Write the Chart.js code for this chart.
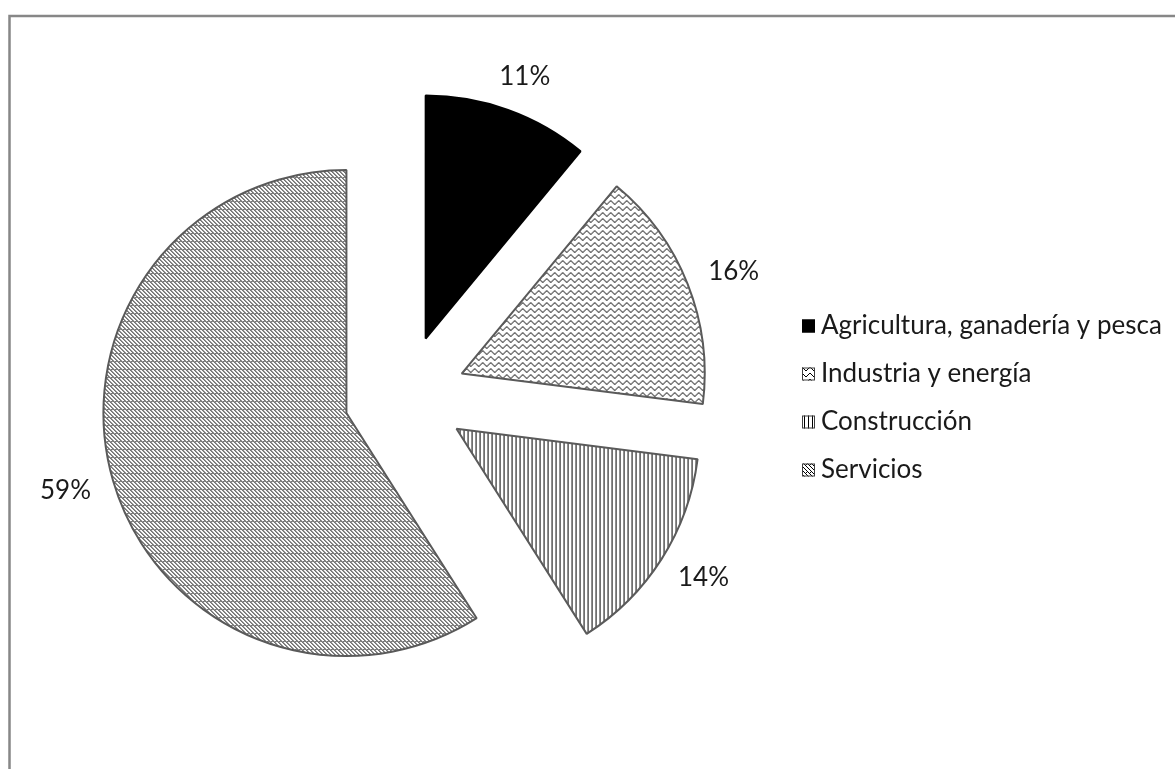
<!DOCTYPE html>
<html><head><meta charset="utf-8">
<script src="https://cdn.jsdelivr.net/npm/chart.js@4.4.1/dist/chart.umd.min.js"></script>
<style>html,body{margin:0;padding:0;background:#fff;overflow:hidden}</style>
</head><body>
<canvas id="c" width="1175" height="769"></canvas>
<script>
const categories = ['Agricultura, ganadería y pesca', 'Industria y energía', 'Construcción', 'Servicios'];
const shares = [11, 16, 14, 59];
const patternKinds = ['solid', 'wave', 'vertical', 'diagonal'];

function makePattern(kind) {
  const cv = document.createElement('canvas');
  const g = cv.getContext('2d');
  if (kind === 'solid') return '#000000';
  if (kind === 'wave') {
    cv.width = 8; cv.height = 6;
    g.fillStyle = '#fff'; g.fillRect(0, 0, 8, 6);
    g.fillStyle = '#000';
    const ys = [2, 1, 1, 2, 3, 4, 4, 3];
    ys.forEach((y, x) => g.fillRect(x, y, 1, 1));
  } else if (kind === 'vertical') {
    cv.width = 4; cv.height = 4;
    g.fillStyle = '#fff'; g.fillRect(0, 0, 4, 4);
    g.fillStyle = '#000'; g.fillRect(0, 0, 1, 4);
  } else {
    cv.width = 4; cv.height = 8;
    g.fillStyle = '#fff'; g.fillRect(0, 0, 4, 8);
    g.fillStyle = '#000';
    for (let i = 0; i < 8; i++) g.fillRect(i % 4, i, 1, 1);
    g.fillRect(2, 0, 1, 1);
  }
  return g.createPattern(cv, 'repeat');
}
const fills = patternKinds.map(makePattern);
const borders = patternKinds.map(k => k === 'solid' ? '#000000' : '#5a5a5a');
const EXPLODE = 61;

const framePlugin = {
  id: 'frame',
  beforeDraw(chart) {
    const ctx = chart.ctx;
    ctx.save();
    ctx.fillStyle = '#ffffff';
    ctx.fillRect(0, 0, chart.width, chart.height);
    ctx.strokeStyle = '#878787';
    ctx.lineWidth = 2.5;
    ctx.beginPath();
    ctx.moveTo(9.5, chart.height + 5);
    ctx.lineTo(9.5, 16);
    ctx.lineTo(chart.width + 5, 16);
    ctx.stroke();
    ctx.restore();
  }
};

// Exploded slices: every arc is pushed out along its mid angle by the same distance
const explodePlugin = {
  id: 'explode',
  beforeDatasetDraw(chart, args) {
    const ctx = chart.ctx;
    args.meta.data.forEach(arc => {
      const p = arc.getProps(['startAngle', 'endAngle'], true);
      const mid = (p.startAngle + p.endAngle) / 2;
      ctx.save();
      ctx.translate(Math.cos(mid) * EXPLODE, Math.sin(mid) * EXPLODE);
      arc.draw(ctx, chart.chartArea);
      ctx.restore();
    });
    return false;
  }
};

const labelPlugin = {
  id: 'pctLabels',
  afterDatasetsDraw(chart) {
    const ctx = chart.ctx;
    const meta = chart.getDatasetMeta(0);
    const data = chart.data.datasets[0].data;
    const total = data.reduce((a, b) => a + b, 0);
    ctx.save();
    ctx.font = '26px Lato';
    ctx.fillStyle = '#1a1a1a';
    ctx.textAlign = 'center';
    ctx.textBaseline = 'middle';
    meta.data.forEach((arc, i) => {
      const p = arc.getProps(['x', 'y', 'startAngle', 'endAngle', 'outerRadius'], true);
      const mid = (p.startAngle + p.endAngle) / 2;
      const txt = Math.round(data[i] / total * 100) + '%';
      const w = ctx.measureText(txt).width, h = 22;
      const dx = Math.cos(mid), dy = Math.sin(mid);
      const d = p.outerRadius + EXPLODE + 24;
      ctx.fillText(txt, p.x + dx * d + dx * w / 2, p.y + dy * d + dy * h / 2);
    });
    ctx.restore();
  }
};

const legendPlugin = {
  id: 'sideLegend',
  afterDraw(chart) {
    const ctx = chart.ctx;
    const boxX = 802, box = 13, textX = 821, y0 = 326, step = 48;
    ctx.save();
    ctx.font = '26px Lato';
    ctx.textBaseline = 'middle';
    ctx.textAlign = 'left';
    chart.data.labels.forEach((lab, i) => {
      const y = y0 + i * step;
      const ds = chart.data.datasets[0];
      ctx.fillStyle = ds.backgroundColor[i];
      ctx.fillRect(boxX, y - box / 2, box, box);
      ctx.strokeStyle = i === 0 ? '#000' : '#404040';
      ctx.lineWidth = 1;
      ctx.strokeRect(boxX + 0.5, y - box / 2 + 0.5, box - 1, box - 1);
      ctx.fillStyle = '#1a1a1a';
      ctx.fillText(lab, textX, y);
    });
    ctx.restore();
  }
};

new Chart(document.getElementById('c'), {
  type: 'pie',
  data: {
    labels: categories,
    datasets: [{
      data: shares,
      backgroundColor: fills,
      borderColor: borders,
      borderWidth: 2,
      offset: 0,
      radius: 243
    }]
  },
  options: {
    responsive: false,
    animation: false,
    devicePixelRatio: 1,
    layout: { padding: { left: 0, right: 365, top: 23, bottom: 0 } },
    plugins: { legend: { display: false }, tooltip: { enabled: false } }
  },
  plugins: [framePlugin, explodePlugin, labelPlugin, legendPlugin]
});
</script>
</body></html>
